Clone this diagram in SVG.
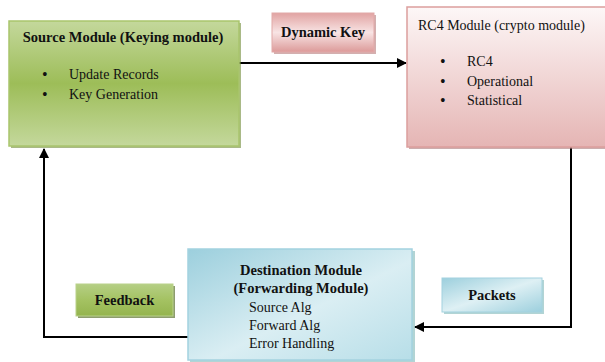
<svg xmlns="http://www.w3.org/2000/svg" width="605" height="362" viewBox="0 0 605 362">
<style>
text{font-family:"Liberation Serif","DejaVu Serif",serif;fill:#111}
.b{font-weight:bold}
.t{font-size:14.5px}
.s{font-size:14px}
.d{font-size:16px}
.line{fill:none;stroke:#000;stroke-width:2}
</style>
<defs>
<linearGradient id="g" x1="0" y1="0" x2="0" y2="1">
<stop offset="0" stop-color="#c4d89c"/><stop offset="0.5" stop-color="#9dbd58"/><stop offset="1" stop-color="#c4d89c"/>
</linearGradient>
<linearGradient id="p" x1="0" y1="0" x2="0" y2="1">
<stop offset="0" stop-color="#fdf7f7"/><stop offset="1" stop-color="#e5b5b4"/>
</linearGradient>
<linearGradient id="pk" x1="0" y1="0" x2="0" y2="1">
<stop offset="0" stop-color="#e1a3a2"/><stop offset="0.5" stop-color="#f8e4e4"/><stop offset="1" stop-color="#dc9a99"/>
</linearGradient>
<linearGradient id="bl" x1="0" y1="0" x2="1" y2="1">
<stop offset="0" stop-color="#9ccfdd"/><stop offset="0.55" stop-color="#daeef3"/><stop offset="1" stop-color="#b7dee8"/>
</linearGradient>
<linearGradient id="bls" x1="0" y1="0" x2="1" y2="1">
<stop offset="0" stop-color="#9ccfdd"/><stop offset="0.5" stop-color="#def0f4"/><stop offset="1" stop-color="#9ccfdd"/>
</linearGradient>
<linearGradient id="gs" x1="0" y1="0" x2="0" y2="1">
<stop offset="0" stop-color="#b5cf85"/><stop offset="0.5" stop-color="#a4c262"/><stop offset="1" stop-color="#94b44e"/>
</linearGradient>
<marker id="ah" viewBox="0 0 10 10" refX="9" refY="5" markerWidth="5" markerHeight="5" orient="auto">
<path d="M0,0 L10,5 L0,10 z" fill="#000"/>
</marker>
</defs>
<g id="connectors">
<path class="line" d="M239,63 H406" marker-end="url(#ah)"/>
<path class="line" d="M571,147 V327 H415" marker-end="url(#ah)"/>
<path class="line" d="M188,337 H44 V149" marker-end="url(#ah)"/>
</g>
<g id="source">
<rect x="11" y="23" width="230" height="125" fill="#6f8a37" opacity="0.6"/>
<rect x="9" y="21" width="230" height="125" fill="url(#g)" stroke="#a9c56c" stroke-width="1.5"/>
<text class="b t" x="123" y="42" text-anchor="middle">Source Module (Keying module)</text>
<text class="d" x="42" y="80">•</text><text class="s" x="69" y="79">Update Records</text>
<text class="d" x="42" y="100">•</text><text class="s" x="69" y="99">Key Generation</text>
</g>
<g id="dynamic-key">
<rect x="274" y="15" width="102" height="39" fill="#b57a79" opacity="0.6"/>
<rect x="272" y="13" width="102" height="39" fill="url(#pk)" stroke="#e2a9a8" stroke-width="1"/>
<text class="b t" x="323" y="37" text-anchor="middle">Dynamic Key</text>
</g>
<g id="rc4">
<rect x="409" y="9" width="200" height="140" fill="#a77" opacity="0.6"/>
<rect x="407" y="7" width="200" height="140" fill="url(#p)" stroke="#dc9e9d" stroke-width="1.5"/>
<text class="s" x="418" y="30">RC4 Module (crypto module)</text>
<text class="d" x="440" y="67">•</text><text class="s" x="467" y="66">RC4</text>
<text class="d" x="440" y="87">•</text><text class="s" x="467" y="86">Operational</text>
<text class="d" x="440" y="106">•</text><text class="s" x="467" y="105">Statistical</text>
</g>
<g id="destination">
<rect x="190" y="251" width="225" height="113" fill="#6aa" opacity="0.5"/>
<rect x="188" y="249" width="224" height="111" fill="url(#bl)" stroke="#a3d2df" stroke-width="1.5"/>
<text class="b t" x="301" y="275" text-anchor="middle">Destination Module</text>
<text class="b t" x="301" y="293" text-anchor="middle">(Forwarding Module)</text>
<text class="s" x="249" y="312">Source Alg</text>
<text class="s" x="249" y="330">Forward Alg</text>
<text class="s" x="249" y="348">Error Handling</text>
</g>
<g id="feedback">
<rect x="78" y="286" width="97" height="32" fill="#5c7330" opacity="0.7"/>
<rect x="76" y="284" width="97" height="32" fill="url(#gs)" stroke="#b9d28a" stroke-width="1"/>
<text class="b t" x="124.5" y="305" text-anchor="middle">Feedback</text>
</g>
<g id="packets">
<rect x="444" y="280" width="100" height="34" fill="#6aa" opacity="0.5"/>
<rect x="442" y="278" width="100" height="34" fill="url(#bls)" stroke="#a3d2df" stroke-width="1"/>
<text class="b t" x="492" y="300" text-anchor="middle">Packets</text>
</g>
</svg>
